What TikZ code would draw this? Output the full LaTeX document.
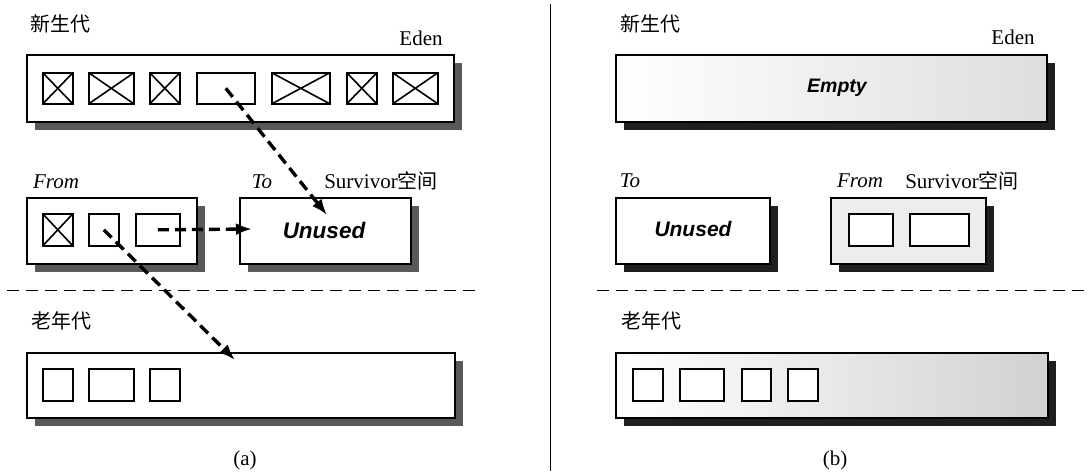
\documentclass[tikz,border=0pt]{standalone}
\usepackage{fontspec}
\setmainfont{Liberation Serif}
\setsansfont{Liberation Sans}
\newfontfamily\cjk{Noto Sans CJK SC}
\usetikzlibrary{shadows,arrows.meta}
\begin{document}
\begin{tikzpicture}[x=1pt,y=-1pt,
  membox/.style={draw=black, line width=1.8pt, fill=white, inner sep=0pt, anchor=north west,
     drop shadow={shadow xshift=8pt, shadow yshift=-8pt, fill=black!65, opacity=1}},
  memboxb/.style={membox, drop shadow={shadow xshift=8pt, shadow yshift=-8pt, fill=black!88, opacity=1}},
  ibox/.style={draw=black, line width=1.6pt, fill=white, inner sep=0pt, anchor=north west},
  xbox/.style={ibox, path picture={\draw[line width=1.6pt]
     (path picture bounding box.north west)--(path picture bounding box.south east)
     (path picture bounding box.south west)--(path picture bounding box.north east);}},
  cjkl/.style={font=\cjk\fontsize{20}{22}\selectfont, inner sep=0pt},
  serl/.style={font=\fontsize{21}{24}\selectfont, inner sep=0pt},
  itl/.style={font=\itshape\fontsize{21}{24}\selectfont, inner sep=0pt},
  bigl/.style={font=\sffamily\bfseries\itshape\fontsize{21}{24}\selectfont, inner sep=0pt},
  move/.style={line width=3.4pt, dash pattern=on 11pt off 6pt, -{Latex[length=16pt,width=12pt]}},
  sep/.style={line width=1pt, dash pattern=on 12pt off 7pt}
]
\useasboundingbox (0,0) rectangle (1089,471);
\fill[white] (0,0) rectangle (1089,471);

% vertical divider
\coordinate (vtop) at (550,4);
\coordinate (vbot) at (550,471);
\draw[line width=1pt] (vtop) -- (vbot);

% ================= (a) =================
\node[cjkl] (ygA) at (60,24) {新生代};
\node[serl] (edenlA) at (421,38) {Eden};
\node[membox, minimum width=427pt, minimum height=67pt] (edenA) at (26,54) {};
\node[xbox, minimum width=30pt, minimum height=31pt] (a1) at (42,72) {};
\node[xbox, minimum width=45pt, minimum height=31pt] (a2) at (88,72) {};
\node[xbox, minimum width=30pt, minimum height=31pt] (a3) at (149,72) {};
\node[ibox, minimum width=58pt, minimum height=31pt] (a4) at (196,72) {};
\node[xbox, minimum width=58pt, minimum height=31pt] (a5) at (271,72) {};
\node[xbox, minimum width=30pt, minimum height=31pt] (a6) at (346,72) {};
\node[xbox, minimum width=45pt, minimum height=31pt] (a7) at (392,72) {};

\node[itl] (fromlA) at (56,182) {From};
\node[itl] (tolA) at (262,182) {To};
\node[serl] (survA) at (381,181) {Survivor{\cjk\fontsize{20}{22}\selectfont 空间}};

\node[membox, minimum width=170pt, minimum height=66pt] (fromA) at (26,197) {};
\node[xbox, minimum width=30pt, minimum height=32pt] (f1) at (42,213) {};
\node[ibox, minimum width=30pt, minimum height=32pt] (f2) at (88,213) {};
\node[ibox, minimum width=44pt, minimum height=32pt] (f3) at (135,213) {};

\node[membox, minimum width=171pt, minimum height=66pt] (toA) at (239,197) {};
\node[bigl, font=\sffamily\bfseries\itshape\fontsize{22.5}{24}\selectfont] (unusedA) at (324,230) {Unused};

\draw[sep] (7,290) coordinate (sepAa) -- (480,290) coordinate (sepAb);

\node[cjkl] (ogA) at (61,321) {老年代};
\node[membox, minimum width=428pt, minimum height=65pt] (oldA) at (26,352) {};
\node[ibox, minimum width=30pt, minimum height=32pt] (o1) at (42,368) {};
\node[ibox, minimum width=45pt, minimum height=32pt] (o2) at (88,368) {};
\node[ibox, minimum width=30pt, minimum height=32pt] (o3) at (149,368) {};

\node[serl] (capA) at (245,460) {(a)};

% arrows
\coordinate (t1) at (327,215);
\coordinate (t2) at (252,229);
\coordinate (t3) at (235,360);
\draw[move] (a4.center) -- (t1);
\draw[move] (f3.center) -- (t2);
\draw[move] (f2.center) -- (t3);

% ================= (b) =================
\node[cjkl] (ygB) at (650,24) {新生代};
\node[serl] (edenlB) at (1013,37) {Eden};
\node[memboxb, minimum width=431pt, minimum height=67pt, left color=white, middle color=white, right color=black!13] (edenB) at (615,54) {};
\node[bigl, font=\sffamily\bfseries\itshape\fontsize{19.5}{24}\selectfont] (emptyB) at (837,88) {Empty};

\node[itl] (tolB) at (630,181) {To};
\node[itl] (fromlB) at (860,181) {From};
\node[serl] (survB) at (962,181) {Survivor{\cjk\fontsize{20}{22}\selectfont 空间}};

\node[memboxb, minimum width=154pt, minimum height=66pt] (toB) at (615,197) {};
\node[bigl] (unusedB) at (693,229) {Unused};

\node[memboxb, minimum width=155pt, minimum height=66pt, fill=black!7] (fromB) at (830,197) {};
\node[ibox, minimum width=44pt, minimum height=32pt] (g1) at (848,213) {};
\node[ibox, minimum width=59pt, minimum height=32pt] (g2) at (909,213) {};

\draw[sep] (597,290) coordinate (sepBa) -- (1089,290) coordinate (sepBb);

\node[cjkl] (ogB) at (651,321) {老年代};
\node[memboxb, minimum width=432pt, minimum height=65pt, left color=white, middle color=white, right color=black!18] (oldB) at (615,352) {};
\node[ibox, minimum width=30pt, minimum height=32pt] (p1) at (632,368) {};
\node[ibox, minimum width=44pt, minimum height=32pt] (p2) at (679,368) {};
\node[ibox, minimum width=29pt, minimum height=32pt] (p3) at (741,368) {};
\node[ibox, minimum width=30pt, minimum height=32pt] (p4) at (787,368) {};

\node[serl] (capB) at (835,460) {(b)};
\end{tikzpicture}
\end{document}
